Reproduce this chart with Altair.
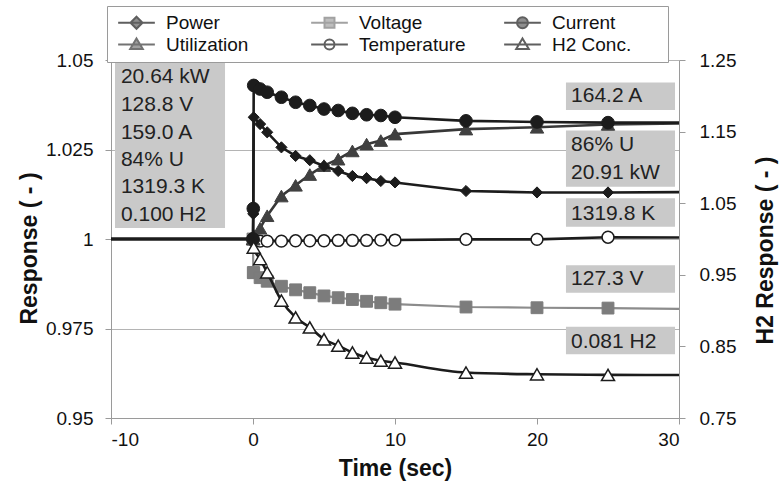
import altair as alt
import pandas as pd

# ---------------- data ----------------
TIME = [-10, 0, 0.02, 0.05, 0.5, 1, 2, 3, 4, 5, 6, 7, 8, 9, 10, 15, 20, 25, 30]
POWER = [1.0, 1.0, 1.007, 1.034, 1.0321, 1.0298, 1.0256, 1.0232, 1.022, 1.0204,
         1.019, 1.0176, 1.017, 1.0162, 1.0158, 1.0134, 1.013, 1.013, 1.0131]
VOLTAGE = [1.0, 1.0, 0.9906, 0.9906, 0.9892, 0.9882, 0.9868, 0.9858, 0.985, 0.9841,
           0.9836, 0.9831, 0.9826, 0.9822, 0.9818, 0.981, 0.9808, 0.9807, 0.9805]
CURRENT = [1.0, 1.0, 1.0085, 1.0429, 1.0419, 1.041, 1.0396, 1.0382, 1.0373, 1.0363,
           1.0359, 1.0351, 1.0347, 1.0345, 1.034, 1.033, 1.0327, 1.0325, 1.0325]
UTILIZATION = [1.0, 1.0, 1.0, 1.001, 1.003, 1.0065, 1.012, 1.015, 1.018, 1.0205,
               1.0223, 1.0246, 1.0265, 1.0275, 1.0293, 1.0307, 1.0312, 1.032, 1.0323]
TEMPERATURE = [1.0, 1.0, 1.0, 0.9996, 0.9994, 0.9994, 0.9994, 0.9995, 0.9995, 0.9995,
               0.9996, 0.9996, 0.9996, 0.9997, 0.9997, 0.9999, 0.9999, 1.0005, 1.0004]
H2_CONC = [1.0, 1.0, 0.997, 0.988, 0.972, 0.9535, 0.914, 0.8905, 0.8765, 0.86,
           0.851, 0.8415, 0.8345, 0.83, 0.8275, 0.8135, 0.811, 0.8102, 0.81]

SERIES = ["Power", "Voltage", "Current", "Utilization", "Temperature", "H2 Conc."]

X_TICKS = [-10, 0, 10, 20, 30]
Y_LEFT_TICKS = [0.95, 0.975, 1.0, 1.025, 1.05]
Y_RIGHT_TICKS = [0.75, 0.85, 0.95, 1.05, 1.15, 1.25]

LEFT_LABELS = ["20.64 kW", "128.8 V", "159.0 A", "84% U", "1319.3 K", "0.100 H2"]
RIGHT_LABELS = ["164.2 A", "86% U", "20.91 kW", "1319.8 K", "127.3 V", "0.081 H2"]

# annotation placement (data coordinates of the left axis)
LEFT_BOX = dict(x0=-9.72, x1=-1.97, y0=1.0494, y1=1.0031)
LEFT_TEXT_X = -9.3
LEFT_TEXT_Y = [1.0453, 1.0374, 1.0296, 1.0221, 1.0146, 1.0067]
RIGHT_BOX_X = (22.04, 29.72)
RIGHT_BOXES_Y = [(1.0437, 1.0360), (1.0303, 1.0146), (1.0114, 1.0034),
                 (0.9927, 0.9850), (0.9755, 0.9678)]
RIGHT_TEXT_X = 22.4
RIGHT_TEXT_Y = [1.0399, 1.0263, 1.0184, 1.0070, 0.9887, 0.9713]

FONT = "Liberation Sans"
DARK = "#1c1c1c"

# ---------------- scales / axes ----------------
x_scale = alt.Scale(domain=[-10, 30], nice=False, zero=False)
x_axis = alt.Axis(values=X_TICKS, labelExpr="'' + datum.value", title="Time (sec)", grid=False,
                  domainColor="#9a9a9a", tickColor="#9a9a9a", tickSize=6,
                  labelFontSize=19, labelFont=FONT, labelColor="#111",
                  labelPadding=6,
                  titleFont=FONT, titleFontSize=23, titleFontWeight="bold",
                  titleColor="#111", titleX=284, titleY=50,
                  titleBaseline="middle", titleAlign="center")


def x_of(field):
    return alt.X(field, scale=x_scale, axis=x_axis)


left_scale = alt.Scale(domain=[0.95, 1.05], nice=False, zero=False)
left_axis = alt.Axis(values=Y_LEFT_TICKS, format=".3~f", title="Response ( - )",
                     grid=True, gridColor="#b4b4b4", gridWidth=1,
                     domainColor="#9a9a9a", tickColor="#9a9a9a", tickSize=6,
                     labelFontSize=19, labelFont=FONT, labelColor="#111",
                     labelPadding=12,
                     titleFont=FONT, titleFontSize=23, titleFontWeight="bold",
                     titleColor="#111", titleX=-82, titleY=188, titleAngle=270,
                     titleBaseline="middle", titleAlign="center")

right_scale = alt.Scale(domain=[0.75, 1.25], nice=False, zero=False)
right_axis = alt.Axis(values=Y_RIGHT_TICKS, format=".2f", title="H2 Response  ( - )",
                      orient="right", grid=False,
                      domainColor="#9a9a9a", tickColor="#9a9a9a", tickSize=6,
                      labelFontSize=19, labelFont=FONT, labelColor="#111",
                      labelPadding=14,
                      titleFont=FONT, titleFontSize=23, titleFontWeight="bold",
                      titleColor="#111", titleX=86, titleY=190, titleAngle=270,
                      titleBaseline="middle", titleAlign="center")


def y_left(field):
    return alt.Y(field, scale=left_scale, axis=left_axis)


# ---------------- series styles ----------------
STYLE = {
    "Power": dict(line=DARK, lw=2.6, shape="diamond", fill=DARK, stroke=DARK, size=125, sw=1),
    "Voltage": dict(line="#8c8c8c", lw=2.2, shape="square", fill="#7c7c7c", stroke="#7c7c7c", size=140, sw=1),
    "Current": dict(line=DARK, lw=2.6, shape="circle", fill=DARK, stroke=DARK, size=160, sw=1),
    "Utilization": dict(line="#383838", lw=2.6, shape="triangle-up", fill="#404040", stroke="#404040", size=180, sw=1),
    "Temperature": dict(line=DARK, lw=2.6, shape="circle", fill="white", stroke=DARK, size=140, sw=1.5),
    "H2 Conc.": dict(line=DARK, lw=2.6, shape="triangle-up", fill="white", stroke=DARK, size=170, sw=1.5),
}

VALUES = {"Power": POWER, "Voltage": VOLTAGE, "Current": CURRENT,
          "Utilization": UTILIZATION, "Temperature": TEMPERATURE}

left_layers = []
for name in ["Voltage", "Temperature", "Utilization", "Power", "Current"]:
    st = STYLE[name]
    df = pd.DataFrame({"t": TIME, "v": VALUES[name]})
    line = alt.Chart(df).mark_line(color=st["line"], strokeWidth=st["lw"]).encode(
        x=x_of("t:Q"), y=y_left("v:Q"))
    pts = alt.Chart(df).transform_filter("datum.t >= 0 && datum.t <= 25").mark_point(
        shape=st["shape"], filled=True, fill=st["fill"], stroke=st["stroke"],
        strokeWidth=st["sw"], size=st["size"], opacity=1).encode(
        x=x_of("t:Q"), y=y_left("v:Q"))
    left_layers += [line, pts]

# annotation boxes
box_df = pd.DataFrame({
    "x0": [LEFT_BOX["x0"]] + [RIGHT_BOX_X[0]] * len(RIGHT_BOXES_Y),
    "x1": [LEFT_BOX["x1"]] + [RIGHT_BOX_X[1]] * len(RIGHT_BOXES_Y),
    "y0": [LEFT_BOX["y0"]] + [b[0] for b in RIGHT_BOXES_Y],
    "y1": [LEFT_BOX["y1"]] + [b[1] for b in RIGHT_BOXES_Y],
})
boxes = alt.Chart(box_df).mark_rect(color="#c9c9c9", opacity=1).encode(
    x=x_of("x0:Q"), x2="x1:Q", y=y_left("y0:Q"), y2="y1:Q")

text_df = pd.DataFrame({
    "tx": [LEFT_TEXT_X] * len(LEFT_LABELS) + [RIGHT_TEXT_X] * len(RIGHT_LABELS),
    "ty": LEFT_TEXT_Y + RIGHT_TEXT_Y,
    "label": LEFT_LABELS + RIGHT_LABELS,
})
texts = alt.Chart(text_df).mark_text(align="left", baseline="middle", font=FONT,
                                     fontSize=21, color="#222").encode(
    x=x_of("tx:Q"), y=y_left("ty:Q"), text="label:N")

# legend-only layer (no visible marks; the legend is drawn from its scales)
LEGEND_PATHS = [
    "M-3.5,0H3.5M0,-1.15L1.15,0L0,1.15L-1.15,0Z",
    "M-3.5,0H3.5M-0.95,-0.95H0.95V0.95H-0.95Z",
    "M-3.5,0H3.5M-1.05,0A1.05,1.05,0,1,1,1.05,0A1.05,1.05,0,1,1,-1.05,0Z",
    "M-3.5,0H3.5M0,-1.15L1.2,0.85L-1.2,0.85Z",
    "M-3.5,0H3.5M-0.95,0A0.95,0.95,0,1,1,0.95,0A0.95,0.95,0,1,1,-0.95,0Z",
    "M-3.5,0H3.5M0,-1.15L1.2,0.85L-1.2,0.85Z",
]
legend_cfg = dict(title=" ", titleOrient="right", titlePadding=30,
                  titleFontSize=10,
                  orient="none", legendX=-4, legendY=-54,
                  direction="horizontal", columns=3, gridAlign="all",
                  columnPadding=34, rowPadding=1, padding=7,
                  strokeColor="#9a9a9a", fillColor="white",
                  labelFont=FONT, labelFontSize=19, labelColor="#111",
                  symbolSize=110, symbolStrokeWidth=2, symbolOffset=13,
                  labelOffset=20, labelLimit=300)
legend_df = pd.DataFrame({"series": SERIES, "t": [0] * 6, "v": [1.0] * 6})
legend_layer = alt.Chart(legend_df).transform_filter("false").mark_point(
    filled=True, size=110).encode(
    x=x_of("t:Q"), y=y_left("v:Q"),
    shape=alt.Shape("series:N", scale=alt.Scale(domain=SERIES, range=LEGEND_PATHS),
                    legend=alt.Legend(**legend_cfg)),
    fill=alt.Fill("series:N", scale=alt.Scale(domain=SERIES,
                  range=[STYLE[s]["fill"] for s in SERIES]),
                  legend=alt.Legend(**legend_cfg)),
    stroke=alt.Stroke("series:N", scale=alt.Scale(domain=SERIES,
                      range=[STYLE[s]["line"] if s != "Voltage" else "#7c7c7c" for s in SERIES]),
                      legend=alt.Legend(**legend_cfg)),
)

left_group = alt.layer(boxes, texts, *left_layers, legend_layer)

# H2 on right axis
st = STYLE["H2 Conc."]
h2_df = pd.DataFrame({"t": TIME, "h": H2_CONC})
y_right = alt.Y("h:Q", scale=right_scale, axis=right_axis)
h2_line = alt.Chart(h2_df).mark_line(color=st["line"], strokeWidth=st["lw"],
                                     interpolate="monotone").encode(x=x_of("t:Q"), y=y_right)
h2_pts = alt.Chart(h2_df).transform_filter("datum.t >= 0.04 && datum.t <= 25").mark_point(
    shape=st["shape"], filled=True, fill=st["fill"], stroke=st["stroke"],
    strokeWidth=st["sw"], size=st["size"], opacity=1).encode(x=x_of("t:Q"), y=y_right)
right_group = alt.layer(h2_line, h2_pts)

chart = alt.layer(left_group, right_group).resolve_scale(y="independent").properties(
    width=568, height=358,
    autosize=alt.AutoSizeParams(type="none"),
    padding={"left": 111, "top": 60, "right": 103, "bottom": 71},
    background="white",
).configure_view(stroke=None)

chart.save("out.html", embed_options={"renderer": "svg", "actions": False})
